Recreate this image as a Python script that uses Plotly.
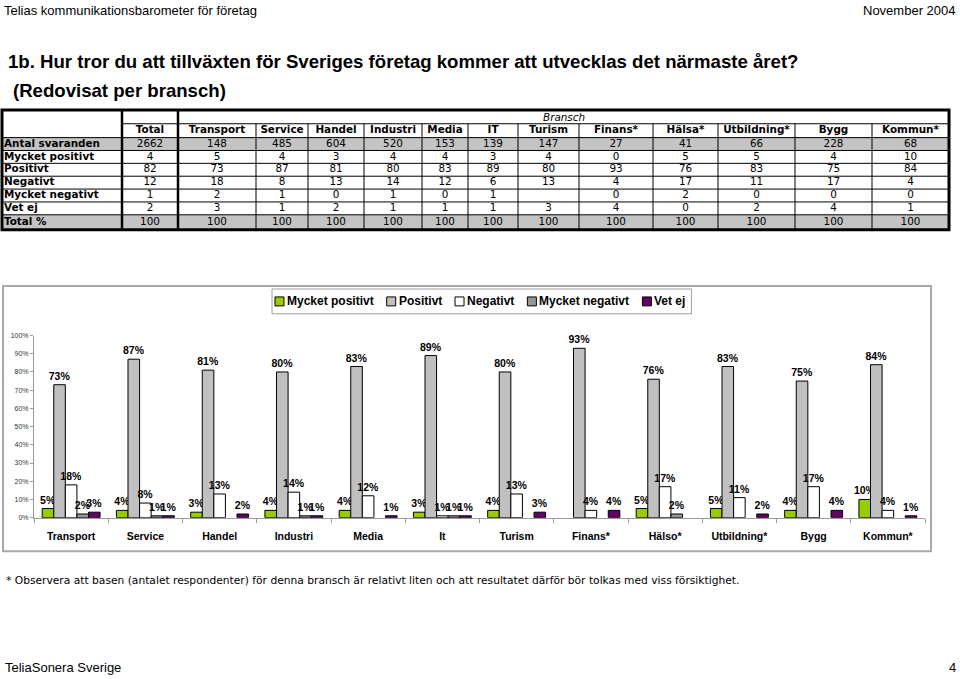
import plotly.graph_objects as go

# ---------------- chart data ----------------
categories = ["Transport", "Service", "Handel", "Industri", "Media", "It", "Turism",
              "Finans*", "Hälso*", "Utbildning*", "Bygg", "Kommun*"]
mycket_positivt = [5, 4, 3, 4, 4, 3, 4, 0, 5, 5, 4, 10]
positivt = [73, 87, 81, 80, 83, 89, 80, 93, 76, 83, 75, 84]
negativt = [18, 8, 13, 14, 12, 1, 13, 4, 17, 11, 17, 4]
mycket_negativt = [2, 1, 0, 1, 0, 1, 0, 0, 2, 0, 0, 0]
vet_ej = [3, 1, 2, 1, 1, 1, 3, 4, 0, 2, 4, 1]
series_names = ["Mycket positivt", "Positivt", "Negativt", "Mycket negativt", "Vet ej"]
y_ticks = [0, 10, 20, 30, 40, 50, 60, 70, 80, 90, 100]
y_tick_labels = ["0%", "10%", "20%", "30%", "40%", "50%", "60%", "70%", "80%", "90%", "100%"]

# ---------------- table data ----------------
table_columns = ["Total", "Transport", "Service", "Handel", "Industri", "Media", "IT",
                 "Turism", "Finans*", "Hälsa*", "Utbildning*", "Bygg", "Kommun*"]
table_rows = ["Antal svaranden", "Mycket positivt", "Positivt", "Negativt",
              "Mycket negativt", "Vet ej", "Total %"]
t_antal = [2662, 148, 485, 604, 520, 153, 139, 147, 27, 41, 66, 228, 68]
t_mycket_positivt = [4, 5, 4, 3, 4, 4, 3, 4, 0, 5, 5, 4, 10]
t_positivt = [82, 73, 87, 81, 80, 83, 89, 80, 93, 76, 83, 75, 84]
t_negativt = [12, 18, 8, 13, 14, 12, 6, 13, 4, 17, 11, 17, 4]
t_mycket_negativt = [1, 2, 1, 0, 1, 0, 1, None, 0, 2, 0, 0, 0]
t_vet_ej = [2, 3, 1, 2, 1, 1, 1, 3, 4, 0, 2, 4, 1]
t_total = [100, 100, 100, 100, 100, 100, 100, 100, 100, 100, 100, 100, 100]
table_values = [t_antal, t_mycket_positivt, t_positivt, t_negativt,
                t_mycket_negativt, t_vet_ej, t_total]

# ---------------- layout / style ----------------
W, H = 960, 679
COLORS = ["#99CC00", "#C0C0C0", "#FFFFFF", "#969696", "#660066"]
COL_EDGES = [2, 122, 178, 256, 308, 364, 422, 468, 518, 579, 653, 718, 795, 872, 949]
ROW_EDGES = [107, 121, 135, 148, 161, 174, 187, 200, 213, 228]
TFONT = "DejaVu Sans"
TSIZE = 10.4
PLOT_L, PLOT_R, PLOT_T, PLOT_B = 34, 925, 335, 519

fig = go.Figure()

series_vals = [mycket_positivt, positivt, negativt, mycket_negativt, vet_ej]
for name, vals, col in zip(series_names, series_vals, COLORS):
    fig.add_trace(go.Bar(
        x=categories,
        y=[v if v > 0 else None for v in vals],
        name=name,
        marker=dict(color=col, line=dict(color="#000000", width=1)),
        text=[f"{v}%" if v > 0 else "" for v in vals],
        textposition="outside",
        textangle=0,
        constraintext="none",
        cliponaxis=False,
        textfont=dict(family="Arial", size=10.5, color="#000000", weight="bold"),
        hoverinfo="skip",
        showlegend=False,
    ))

# ---------------- table as text marks on a page axis ----------------
col_centers = [(COL_EDGES[i + 1] + COL_EDGES[i + 2]) / 2 for i in range(len(table_columns))]
row_centers = [(ROW_EDGES[i] + ROW_EDGES[i + 1]) / 2 for i in range(len(ROW_EDGES) - 1)]

fig.add_trace(go.Scatter(
    x=col_centers, y=[row_centers[1]] * len(table_columns), mode="text",
    text=table_columns, textposition="middle center",
    textfont=dict(family=TFONT, size=TSIZE, color="#000000", weight="bold"),
    xaxis="x2", yaxis="y2", hoverinfo="skip", showlegend=False))
fig.add_trace(go.Scatter(
    x=[COL_EDGES[0] + 2] * len(table_rows), y=row_centers[2:], mode="text",
    text=table_rows, textposition="middle right",
    textfont=dict(family=TFONT, size=TSIZE, color="#000000", weight="bold"),
    xaxis="x2", yaxis="y2", hoverinfo="skip", showlegend=False))
for ri, vals in enumerate(table_values):
    fig.add_trace(go.Scatter(
        x=col_centers, y=[row_centers[ri + 2]] * len(vals), mode="text",
        text=["" if v is None else str(v) for v in vals], textposition="middle center",
        textfont=dict(family=TFONT, size=TSIZE, color="#000000"),
        xaxis="x2", yaxis="y2", hoverinfo="skip", showlegend=False))

shapes = []
shapes.append(dict(type="rect", xref="x2", yref="y2", x0=3, x1=931, y0=285, y1=553,
                   line=dict(color="#A8A8A8", width=2), fillcolor="rgba(0,0,0,0)", layer="below"))
for ri in (2, 8):
    shapes.append(dict(type="rect", xref="x2", yref="y2", x0=COL_EDGES[0], x1=COL_EDGES[-1],
                       y0=ROW_EDGES[ri], y1=ROW_EDGES[ri + 1], fillcolor="#C4C4C4",
                       line=dict(width=0), layer="below"))
shapes.append(dict(type="line", xref="x2", yref="y2", x0=COL_EDGES[1], x1=COL_EDGES[-1],
                   y0=ROW_EDGES[1], y1=ROW_EDGES[1], line=dict(color="#000000", width=1)))
for ri in range(2, len(ROW_EDGES) - 1):
    shapes.append(dict(type="line", xref="x2", yref="y2", x0=COL_EDGES[0], x1=COL_EDGES[-1],
                       y0=ROW_EDGES[ri], y1=ROW_EDGES[ri], line=dict(color="#000000", width=1)))
for ci in range(3, len(COL_EDGES) - 1):
    shapes.append(dict(type="line", xref="x2", yref="y2", x0=COL_EDGES[ci], x1=COL_EDGES[ci],
                       y0=ROW_EDGES[1], y1=ROW_EDGES[-1], line=dict(color="#000000", width=1)))
for ci in (1, 2):
    shapes.append(dict(type="line", xref="x2", yref="y2", x0=COL_EDGES[ci], x1=COL_EDGES[ci],
                       y0=ROW_EDGES[0], y1=ROW_EDGES[-1], line=dict(color="#000000", width=2.5)))
shapes.append(dict(type="rect", xref="x2", yref="y2", x0=COL_EDGES[0], x1=COL_EDGES[-1],
                   y0=ROW_EDGES[0], y1=ROW_EDGES[-1], line=dict(color="#000000", width=3),
                   fillcolor="rgba(0,0,0,0)"))

annotations = []


def txt(x, y, s, size, family="Arial", anchor="left", weight="normal", style="normal", color="#000000"):
    annotations.append(dict(x=x, y=y, xref="x2", yref="y2", text=s, showarrow=False,
                            xanchor=anchor, yanchor="middle",
                            font=dict(family=family, size=size, color=color, weight=weight, style=style)))


txt(2, 7, "Telias kommunikationsbarometer för företag", 13)
txt(958, 7, "November 2004", 13, anchor="right")
txt(6, 58, "1b. Hur tror du att tillväxten för Sveriges företag kommer att utvecklas det närmaste året?",
    18.6, weight="bold")
txt(11, 87, "(Redovisat per bransch)", 18.6, weight="bold")
txt((COL_EDGES[2] + COL_EDGES[-1]) / 2, row_centers[0], "Bransch", TSIZE, family=TFONT,
    anchor="center", style="italic")
txt(4, 582, "* Observera att basen (antalet respondenter) för denna bransch är relativt liten och att "
    "resultatet därför bör tolkas med viss försiktighet.", 10.7, family=TFONT)
txt(3, 670, "TeliaSonera Sverige", 13)
txt(958, 670, "4", 13, anchor="right")

# ---------------- compact legend ----------------
ARIAL_BOLD = {"M": 833, "y": 556, "c": 556, "k": 556, "e": 556, "t": 333, " ": 278, "p": 611,
              "o": 611, "s": 556, "i": 278, "v": 556, "P": 667, "N": 722, "g": 611, "a": 556,
              "V": 667, "j": 278, "n": 611}
LEG_SIZE = 12
LEG_Y = 300.5
cursor = 275
item_widths = [sum(ARIAL_BOLD.get(ch, 556) for ch in name) / 1000 * LEG_SIZE for name in series_names]
leg_left = cursor - 3
for name, col, w in zip(series_names, COLORS, item_widths):
    shapes.append(dict(type="rect", xref="x2", yref="y2", x0=cursor, x1=cursor + 9,
                       y0=LEG_Y - 4.5, y1=LEG_Y + 4.5, fillcolor=col,
                       line=dict(color="#000000", width=1)))
    txt(cursor + 10, LEG_Y, name, LEG_SIZE, weight="bold")
    cursor += 12 + w + 13
leg_right = cursor - 13 + 5
shapes.append(dict(type="rect", xref="x2", yref="y2", x0=leg_left, x1=leg_right,
                   y0=288, y1=313, line=dict(color="#A0A0A0", width=1),
                   fillcolor="rgba(0,0,0,0)", layer="below"))

fig.update_layout(
    width=W, height=H,
    margin=dict(l=0, r=0, t=0, b=0),
    paper_bgcolor="#FFFFFF", plot_bgcolor="rgba(0,0,0,0)",
    barmode="group", bargap=0.22, bargroupgap=0,
    showlegend=False,
    xaxis=dict(domain=[PLOT_L / W, PLOT_R / W], anchor="y", type="category",
               showline=True, linecolor="#9A9A9A", linewidth=1,
               ticks="outside", tickson="boundaries", ticklen=4, tickcolor="#9A9A9A",
               ticklabelstandoff=9,
               tickfont=dict(family="Arial", size=10.5, color="#000000", weight="bold"),
               showgrid=False, fixedrange=True),
    yaxis=dict(domain=[1 - PLOT_B / H, 1 - PLOT_T / H], anchor="x", range=[0, 100],
               tickvals=y_ticks, ticktext=y_tick_labels, showgrid=False, zeroline=False,
               showline=True, linecolor="#9A9A9A", linewidth=1,
               ticks="outside", ticklen=3, tickcolor="#9A9A9A",
               tickfont=dict(family="Arial", size=7, color="#333333"), fixedrange=True),
    xaxis2=dict(domain=[0, 1], range=[0, W], visible=False, anchor="y2", fixedrange=True),
    yaxis2=dict(domain=[0, 1], range=[H, 0], visible=False, anchor="x2", fixedrange=True),
    shapes=shapes,
    annotations=annotations,
)

fig.write_html("out.html", config={"displayModeBar": False},
               post_script="document.body.style.margin='0';document.body.style.padding='0';")
